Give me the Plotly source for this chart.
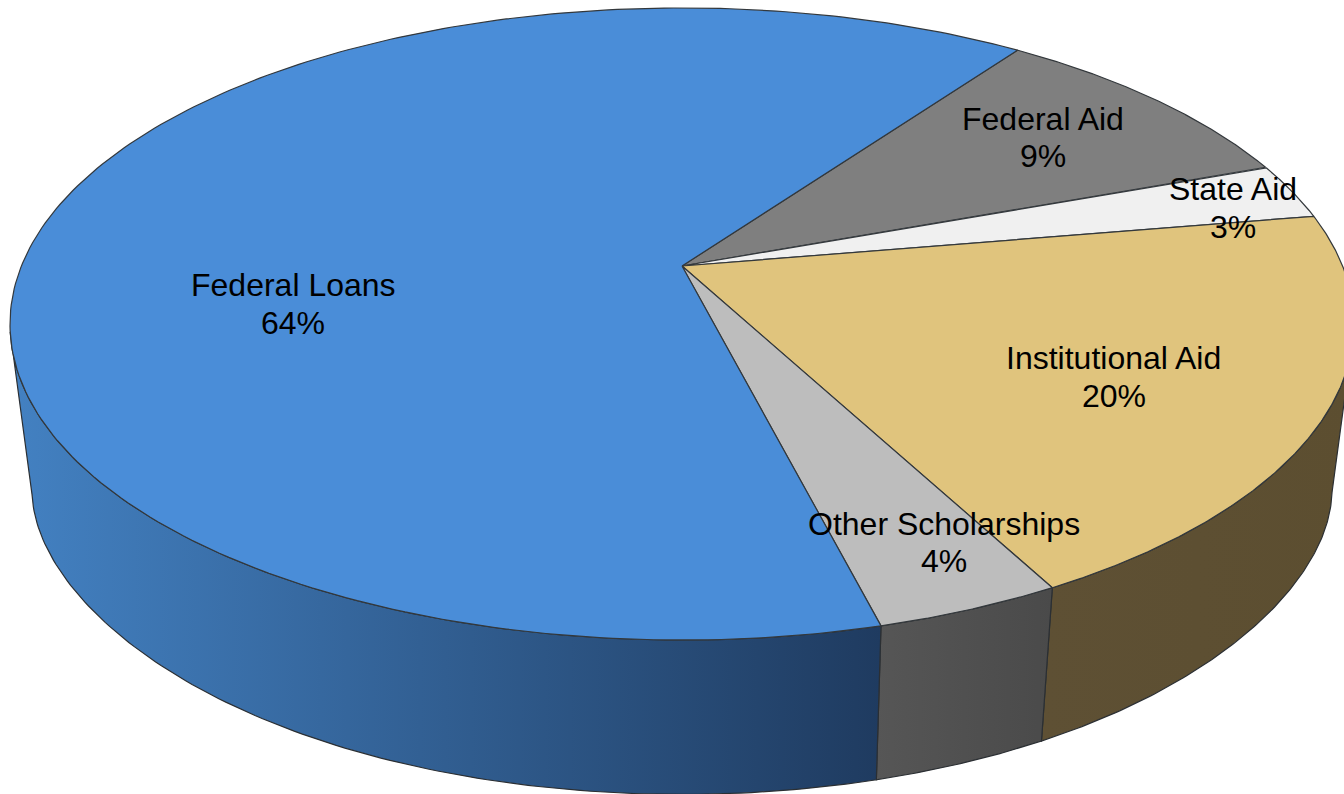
import numpy as np
import plotly.graph_objects as go

# Data, clockwise from the start angle
categories = ["Federal Aid", "State Aid", "Institutional Aid", "Other Scholarships", "Federal Loans"]
shares = [9.5, 2.9, 19.9, 3.8, 63.9]
percent_labels = ["9%", "3%", "20%", "4%", "64%"]

# Styles
top_colors = ["#7f7f7f", "#f0f0f0", "#e0c47d", "#bdbdbd", "#4a8dd8"]
wall_left = [None, None, "#5e5034", "#565656", "#4381c2"]
wall_right = [None, None, "#5c4e30", "#4a4a4a", "#1f3b60"]
label_xy = [(1043, 119, 156), (1232.5, 189, 227), (1113.5, 358, 396), (944, 524, 561), (293, 285, 323)]

START = 35.7
# projective view of the top disc
X0, Y0, B, A, K = 682.0, 266.0, 660.6, 305.4, 0.1835
# projective view of the bottom rim
XB, YB, BB, AB, KB, FLARE = 682.0, 434.6, 604.5, 274.5, 0.237, 32.0


def top(theta_deg):
    t = np.radians(theta_deg)
    u, v = np.sin(t), np.cos(t)
    D = 1 + K * v
    return X0 + B * u / D, Y0 - A * v / D


def bottom(theta_deg):
    t = np.radians(theta_deg)
    u, v = np.sin(t), np.cos(t)
    D = 1 + KB * v
    return XB + BB * u / D + FLARE * np.sign(u) * np.abs(u) ** 6, YB - AB * v / D


edges = START + np.concatenate([[0], np.cumsum(shares)]) * 3.6
fig = go.Figure()
OUT = "#2b2f33"

# walls
for i, cat in enumerate(categories):
    if wall_left[i] is None:
        continue
    a0 = max(edges[i], 101.5)
    a1 = min(edges[i + 1], 258)
    th = np.linspace(a0, a1, 120)
    xt, yt = top(th)
    xb, yb = bottom(th[::-1])
    fig.add_trace(go.Scatter(
        x=np.r_[xt, xb, xt[0]], y=np.r_[yt, yb, yt[0]], mode="lines", fill="toself",
        line=dict(color=OUT, width=1.2),
        fillgradient=dict(type="horizontal",
                          colorscale=[[0, wall_left[i]], [1, wall_right[i]]]),
        hoverinfo="skip", showlegend=False))

# top slices
for i, cat in enumerate(categories):
    th = np.linspace(edges[i], edges[i + 1], 240)
    xt, yt = top(th)
    fig.add_trace(go.Scatter(
        x=np.r_[X0, xt, X0], y=np.r_[Y0, yt, Y0], mode="lines", fill="toself",
        fillcolor=top_colors[i], line=dict(color="#33383c", width=1.2),
        name=cat, hoverinfo="name", showlegend=False))

# labels
for cat, pct, (lx, y1, y2) in zip(categories, percent_labels, label_xy):
    for txt, ly in ((cat, y1), (pct, y2)):
        fig.add_annotation(x=lx, y=ly, text=txt, showarrow=False, xref="x", yref="y",
                           font=dict(family="Liberation Sans", size=32, color="#000000"))

fig.update_layout(
    width=1344, height=794, margin=dict(l=0, r=0, t=0, b=0),
    paper_bgcolor="white", plot_bgcolor="white", showlegend=False,
    xaxis=dict(range=[0, 1344], visible=False, fixedrange=True),
    yaxis=dict(range=[794, 0], visible=False, fixedrange=True),
)
fig.write_html("out.html", config={"displayModeBar": False},
               post_script="document.body.style.margin='0';")
